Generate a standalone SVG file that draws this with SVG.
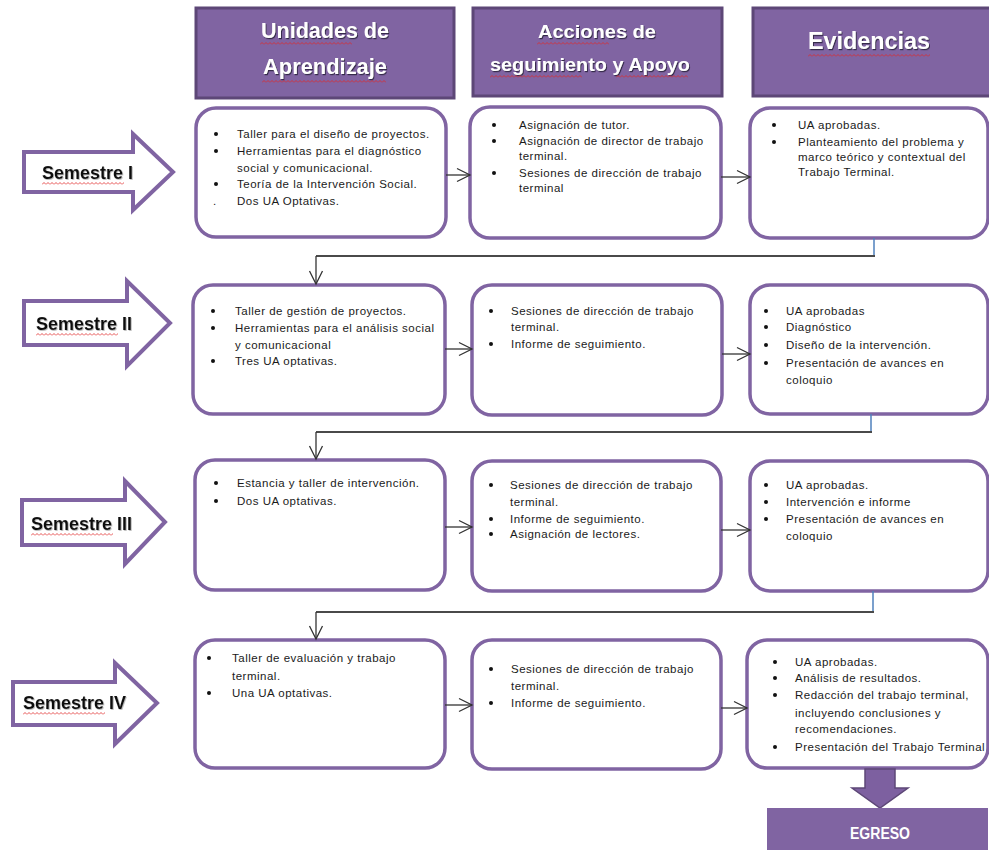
<svg xmlns="http://www.w3.org/2000/svg" width="989" height="850" viewBox="0 0 989 850">
<style>
.hdr{fill:#8064a2;stroke:#5d4777;stroke-width:3}
.ht{font-family:"Liberation Sans",Arial,sans-serif;font-weight:bold;fill:#fff;text-anchor:middle}
.box{fill:#fff;stroke:#8064a2;stroke-width:3.5}
.t{font-family:"Liberation Sans",Arial,sans-serif;font-size:11.5px;letter-spacing:0.5px;fill:#1a1a1a}
.b{fill:#111}
.sem{fill:#fff;stroke:#8064a2;stroke-width:4}
.st{font-family:"Liberation Sans",Arial,sans-serif;font-weight:bold;font-size:18px;fill:#111}
.conn{stroke:#333;stroke-width:1.3;fill:none}
.connh{stroke:#4a4a4a;stroke-width:2;fill:none}
.blue{stroke:#4f81bd;stroke-width:1.5;fill:none}
.sq{fill:url(#squig)}
</style>
<defs>
<marker id="arr" markerUnits="userSpaceOnUse" markerWidth="16" markerHeight="16" viewBox="0 0 16 16" refX="14" refY="8" orient="auto">
<path d="M1,1.5 L14,8 L1,14.5" fill="none" stroke="#333" stroke-width="1.3"/>
</marker>
<pattern id="squig" patternUnits="userSpaceOnUse" width="4" height="3">
<path d="M0,2.5 L2,0.5 L4,2.5" fill="none" stroke="#e02828" stroke-width="0.8"/>
</pattern>
<filter id="sh" x="-10%" y="-20%" width="130%" height="150%">
<feDropShadow dx="1" dy="1.2" stdDeviation="0.6" flood-color="#2e2040" flood-opacity="0.9"/>
</filter>
<filter id="sh2" x="-10%" y="-20%" width="130%" height="150%">
<feDropShadow dx="0.8" dy="0.8" stdDeviation="0.5" flood-color="#777" flood-opacity="0.6"/>
</filter>
</defs>

<!-- headers -->
<g id="hdr-unidades">
<rect class="hdr" x="196" y="8" width="258" height="90"/>
<text class="ht" x="325" y="38" font-size="22" textLength="128" lengthAdjust="spacingAndGlyphs" filter="url(#sh)">Unidades de</text>
<text class="ht" x="325" y="74" font-size="22" textLength="124" lengthAdjust="spacingAndGlyphs" filter="url(#sh)">Aprendizaje</text>
<rect class="sq" x="0" y="0" width="92" height="3" transform="translate(260,42)"/>
<rect class="sq" x="0" y="0" width="124" height="3" transform="translate(262,80)"/>
</g>
<g id="hdr-acciones">
<rect class="hdr" x="473" y="8" width="249" height="88"/>
<text class="ht" x="597" y="38" font-size="19" textLength="118" lengthAdjust="spacingAndGlyphs" filter="url(#sh)">Acciones  de</text>
<text class="ht" x="590" y="71" font-size="19" textLength="200" lengthAdjust="spacingAndGlyphs" filter="url(#sh)">seguimiento y Apoyo</text>
<rect class="sq" x="0" y="0" width="72" height="3" transform="translate(537,42)"/>
<rect class="sq" x="0" y="0" width="92" height="3" transform="translate(490,75)"/>
<rect class="sq" x="0" y="0" width="72" height="3" transform="translate(616,75)"/>
</g>
<g id="hdr-evidencias">
<rect class="hdr" x="753" y="8" width="240" height="88"/>
<text class="ht" x="869" y="49" font-size="23" textLength="122" lengthAdjust="spacingAndGlyphs" filter="url(#sh)">Evidencias</text>
<rect class="sq" x="0" y="0" width="122" height="3" transform="translate(808,54)"/>
</g>

<!-- semester arrows -->
<g id="sem1">
<polygon class="sem" points="24,152 133,152 133,134 173,172 133,210 133,192 24,192"/>
<text class="st" x="42" y="179" filter="url(#sh2)">Semestre  I</text>
<rect class="sq" x="0" y="0" width="82" height="3" transform="translate(42,182)"/>
</g>
<g id="sem2">
<polygon class="sem" points="24,301 127,301 127,281 170,323 127,366 127,345 24,345"/>
<text class="st" x="36" y="330" filter="url(#sh2)">Semestre  II</text>
<rect class="sq" x="0" y="0" width="82" height="3" transform="translate(36,333)"/>
</g>
<g id="sem3">
<polygon class="sem" points="22,500 125,500 125,481 165,522 125,564 125,545 22,545"/>
<text class="st" x="31" y="530" filter="url(#sh2)">Semestre III</text>
<rect class="sq" x="0" y="0" width="82" height="3" transform="translate(31,533)"/>
</g>
<g id="sem4">
<polygon class="sem" points="13,682 115,682 115,663 157,703 115,744 115,725 13,725"/>
<text class="st" x="23" y="709" filter="url(#sh2)">Semestre IV</text>
<rect class="sq" x="0" y="0" width="82" height="3" transform="translate(23,712)"/>
</g>

<!-- row 1 -->
<g id="r1a">
<rect class="box" x="196" y="108" width="250" height="129" rx="20"/>
<circle class="b" cx="216" cy="134" r="2"/><text class="t" x="237" y="138">Taller para  el diseño de proyectos.</text>
<circle class="b" cx="216" cy="151" r="2"/><text class="t" x="237" y="155">Herramientas para el diagnóstico</text>
<text class="t" x="237" y="172">social y comunicacional.</text>
<circle class="b" cx="216" cy="184" r="2"/><text class="t" x="237" y="188">Teoría de la Intervención Social.</text>
<text class="t" x="213" y="205">.</text><text class="t" x="237" y="205">Dos UA Optativas.</text>
</g>
<g id="r1b">
<rect class="box" x="470" y="107" width="251" height="131" rx="20"/>
<circle class="b" cx="494" cy="125" r="2"/><text class="t" x="519" y="129">Asignación de tutor.</text>
<circle class="b" cx="494" cy="141" r="2"/><text class="t" x="519" y="145">Asignación de director de trabajo</text>
<text class="t" x="519" y="160">terminal.</text>
<circle class="b" cx="494" cy="173" r="2"/><text class="t" x="519" y="177">Sesiones de dirección de trabajo</text>
<text class="t" x="519" y="192">terminal</text>
</g>
<g id="r1c">
<rect class="box" x="750" y="108" width="238" height="130" rx="20"/>
<circle class="b" cx="774" cy="125" r="2"/><text class="t" x="798" y="129">UA aprobadas.</text>
<circle class="b" cx="774" cy="142" r="2"/><text class="t" x="798" y="146">Planteamiento del problema y</text>
<text class="t" x="798" y="161">marco teórico y contextual del</text>
<text class="t" x="798" y="176">Trabajo Terminal.</text>
</g>

<!-- row 2 -->
<g id="r2a">
<rect class="box" x="193" y="285" width="252" height="129" rx="20"/>
<circle class="b" cx="213" cy="311" r="2"/><text class="t" x="235" y="315">Taller de gestión de proyectos.</text>
<circle class="b" cx="213" cy="328" r="2"/><text class="t" x="235" y="332">Herramientas para el análisis social</text>
<text class="t" x="235" y="349">y comunicacional</text>
<circle class="b" cx="213" cy="361" r="2"/><text class="t" x="235" y="365">Tres UA optativas.</text>
</g>
<g id="r2b">
<rect class="box" x="472" y="285" width="250" height="130" rx="20"/>
<circle class="b" cx="491" cy="311" r="2"/><text class="t" x="511" y="315">Sesiones de dirección de  trabajo</text>
<text class="t" x="511" y="331">terminal.</text>
<circle class="b" cx="491" cy="344" r="2"/><text class="t" x="511" y="348">Informe de seguimiento.</text>
</g>
<g id="r2c">
<rect class="box" x="750" y="285" width="238" height="129" rx="20"/>
<circle class="b" cx="766" cy="311" r="2"/><text class="t" x="786" y="315">UA aprobadas</text>
<circle class="b" cx="766" cy="327" r="2"/><text class="t" x="786" y="331">Diagnóstico</text>
<circle class="b" cx="766" cy="345" r="2"/><text class="t" x="786" y="349">Diseño de la intervención.</text>
<circle class="b" cx="766" cy="363" r="2"/><text class="t" x="786" y="367">Presentación de avances en</text>
<text class="t" x="786" y="384">coloquio</text>
</g>

<!-- row 3 -->
<g id="r3a">
<rect class="box" x="195" y="460" width="250" height="130" rx="20"/>
<circle class="b" cx="216" cy="483" r="2"/><text class="t" x="237" y="487">Estancia y taller de intervención.</text>
<circle class="b" cx="216" cy="501" r="2"/><text class="t" x="237" y="505">Dos UA optativas.</text>
</g>
<g id="r3b">
<rect class="box" x="472" y="461" width="249" height="130" rx="20"/>
<circle class="b" cx="491" cy="485" r="2"/><text class="t" x="510" y="489">Sesiones de dirección de trabajo</text>
<text class="t" x="510" y="506">terminal.</text>
<circle class="b" cx="491" cy="519" r="2"/><text class="t" x="510" y="523">Informe de seguimiento.</text>
<circle class="b" cx="491" cy="534" r="2"/><text class="t" x="510" y="538">Asignación de lectores.</text>
</g>
<g id="r3c">
<rect class="box" x="750" y="461" width="238" height="130" rx="20"/>
<circle class="b" cx="766" cy="485" r="2"/><text class="t" x="786" y="489">UA aprobadas.</text>
<circle class="b" cx="766" cy="502" r="2"/><text class="t" x="786" y="506">Intervención e informe</text>
<circle class="b" cx="766" cy="519" r="2"/><text class="t" x="786" y="523">Presentación de avances en</text>
<text class="t" x="786" y="540">coloquio</text>
</g>

<!-- row 4 -->
<g id="r4a">
<rect class="box" x="195" y="640" width="250" height="128" rx="20"/>
<circle class="b" cx="209" cy="658" r="2"/><text class="t" x="232" y="662">Taller de evaluación y trabajo</text>
<text class="t" x="232" y="680">terminal.</text>
<circle class="b" cx="209" cy="693" r="2"/><text class="t" x="232" y="697">Una UA optativas.</text>
</g>
<g id="r4b">
<rect class="box" x="472" y="640" width="249" height="129" rx="20"/>
<circle class="b" cx="491" cy="669" r="2"/><text class="t" x="511" y="673">Sesiones de dirección de trabajo</text>
<text class="t" x="511" y="690">terminal.</text>
<circle class="b" cx="491" cy="703" r="2"/><text class="t" x="511" y="707">Informe de seguimiento.</text>
</g>
<g id="r4c">
<rect class="box" x="747" y="640" width="241" height="128" rx="20"/>
<circle class="b" cx="775" cy="662" r="2"/><text class="t" x="795" y="666">UA aprobadas.</text>
<circle class="b" cx="775" cy="678" r="2"/><text class="t" x="795" y="682">Análisis de resultados.</text>
<circle class="b" cx="775" cy="695" r="2"/><text class="t" x="795" y="699">Redacción del trabajo terminal,</text>
<text class="t" x="795" y="717">incluyendo conclusiones y</text>
<text class="t" x="795" y="733">recomendaciones.</text>
<circle class="b" cx="775" cy="747" r="2"/><text class="t" x="795" y="751">Presentación del Trabajo Terminal</text>
</g>

<!-- egreso -->
<g id="egreso">
<polygon points="865,769 895,769 895,788 908,788 880,808 852,788 865,788" fill="#7d60a0" stroke="#5d4777" stroke-width="1.5"/>
<rect x="767" y="808" width="221" height="42" fill="#8064a2"/>
<text x="880" y="839" font-family="'Liberation Sans',Arial,sans-serif" font-weight="bold" font-size="16" fill="#fff" text-anchor="middle" textLength="60" lengthAdjust="spacingAndGlyphs">EGRESO</text>
</g>

<!-- connectors -->
<g id="connectors">
<line class="conn" x1="446" y1="175" x2="470" y2="175" marker-end="url(#arr)"/>
<line class="conn" x1="721" y1="177" x2="750" y2="177" marker-end="url(#arr)"/>
<line class="conn" x1="445" y1="349" x2="472" y2="349" marker-end="url(#arr)"/>
<line class="conn" x1="722" y1="354" x2="750" y2="354" marker-end="url(#arr)"/>
<line class="conn" x1="445" y1="527" x2="472" y2="527" marker-end="url(#arr)"/>
<line class="conn" x1="721" y1="530" x2="750" y2="530" marker-end="url(#arr)"/>
<line class="conn" x1="445" y1="705" x2="472" y2="705" marker-end="url(#arr)"/>
<line class="conn" x1="721" y1="708" x2="747" y2="708" marker-end="url(#arr)"/>

<line class="blue" x1="874" y1="238" x2="874" y2="256"/>
<line class="connh" x1="875" y1="256" x2="316" y2="256"/>
<line class="conn" x1="316" y1="256" x2="316" y2="284" marker-end="url(#arr)"/>

<line class="blue" x1="871" y1="414" x2="871" y2="432"/>
<line class="connh" x1="872" y1="432" x2="316" y2="432"/>
<line class="conn" x1="316" y1="432" x2="316" y2="459" marker-end="url(#arr)"/>

<line class="blue" x1="873" y1="591" x2="873" y2="612"/>
<line class="connh" x1="874" y1="612" x2="316" y2="612"/>
<line class="conn" x1="316" y1="612" x2="316" y2="639" marker-end="url(#arr)"/>
</g>
</svg>
